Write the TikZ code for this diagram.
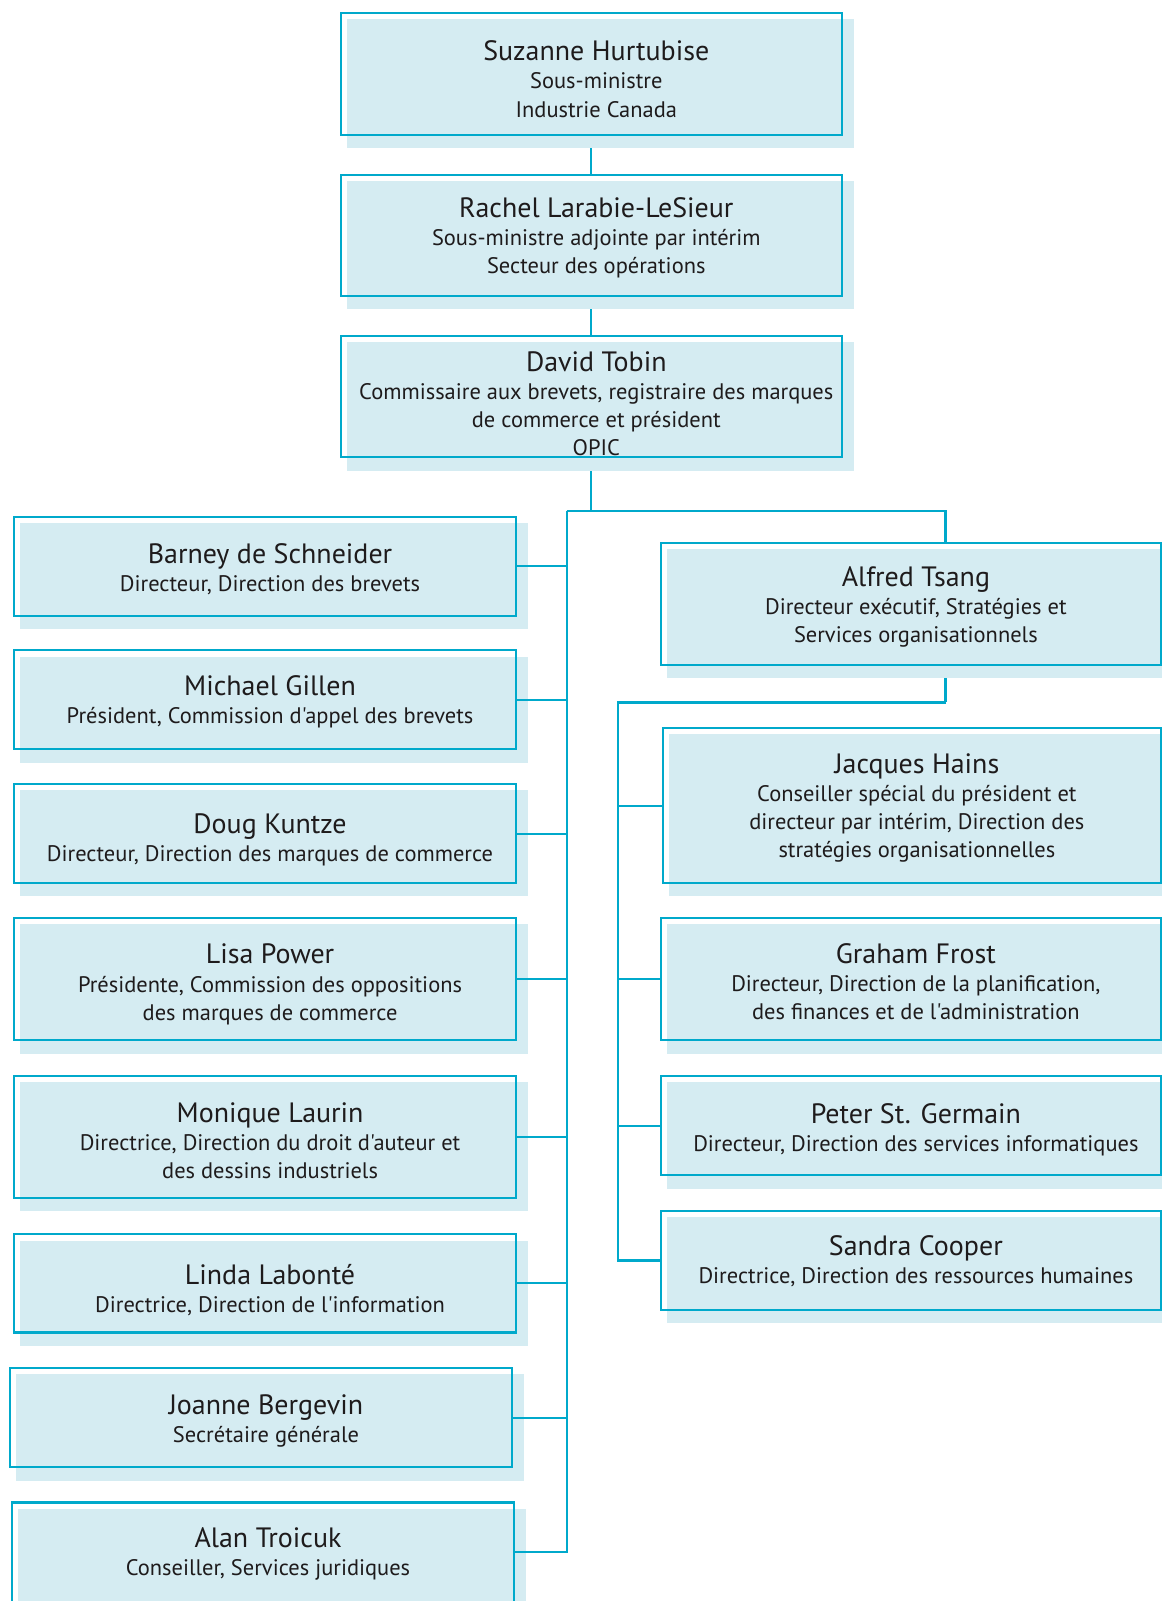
\documentclass[tikz,border=0pt]{standalone}
\usepackage{fontspec}
\setmainfont{PT Sans}[Ligatures=TeXOff]
\usetikzlibrary{calc,backgrounds}
\definecolor{bleuligne}{HTML}{00A9CB}
\definecolor{bleupale}{HTML}{D5ECF2}
\definecolor{encre}{HTML}{1E1B1C}
\def\ombre(#1){\fill[bleupale] ($(#1.north west)+(7,7)$) rectangle ($(#1.south east)+(11,12)$);}
\newcommand{\carte}[3][4pt]{\raisebox{-#1}[\height][\depth]{\hspace*{10pt}\begin{tabular}{@{}c@{}}{\fontsize{27.4}{30}\selectfont #2}\\#3\end{tabular}}}
\tikzset{
	poste/.style={draw=bleuligne, line width=2pt, text=encre, inner sep=0pt,
		minimum width=491pt, font=\fontsize{22}{27.5}\selectfont},
	lien/.style={draw=bleuligne, line width=2pt},
}

\begin{document}
\begin{tikzpicture}[x=1pt,y=-1pt]
			%%%%% START %%%%%
			
			\useasboundingbox (0,0) rectangle (1138,1568);
			\clip (0,0) rectangle (1138,1568);
			
			\node[poste, minimum height=119pt] (hurtubise) at (579,72.5) {\carte[9pt]{Suzanne Hurtubise}{Sous-ministre\\Industrie Canada}};
			\node[poste, minimum height=119pt] (larabie) at (579,230.5) {\carte{Rachel Larabie-LeSieur}{Sous-ministre adjointe par intérim\\Secteur des opérations}};
			\node[poste, minimum height=119pt] (tobin) at (579,388.5) {\carte[11pt]{David Tobin}{Commissaire aux brevets, registraire des marques\\de commerce et président\\OPIC}};
			
			\node[poste, minimum height=97pt] (schneider) at (259.5,554.5) {\carte[5.5pt]{Barney de Schneider}{Directeur, Direction des brevets}};
			\node[poste, minimum height=97pt] (gillen) at (259.5,685.5) {\carte{Michael Gillen}{Président, Commission d'appel des brevets}};
			\node[poste, minimum height=97pt] (kuntze) at (259.5,816.5) {\carte[7.5pt]{Doug Kuntze}{Directeur, Direction des marques de commerce}};
			\node[poste, minimum height=120pt] (power) at (259.5,959) {\carte[7pt]{Lisa Power}{Présidente, Commission des oppositions\\des marques de commerce}};
			\node[poste, minimum height=119pt] (laurin) at (259.5,1113.5) {\carte[8pt]{Monique Laurin}{Directrice, Direction du droit d'auteur et\\des dessins industriels}};
			\node[poste, minimum height=96pt] (labonte) at (259.5,1257) {\carte[9pt]{Linda Labonté}{Directrice, Direction de l'information}};
			\node[poste, minimum height=97pt] (bergevin) at (255.5,1388.5) {\carte[5pt]{Joanne Bergevin}{Secrétaire générale}};
			\node[poste, minimum height=97pt] (troicuk) at (257.5,1520) {\carte{Alan Troicuk}{Conseiller, Services juridiques}};
			
			\node[poste, minimum width=490pt, minimum height=119pt] (tsang) at (892,591.5) {\carte[5pt]{Alfred Tsang}{Directeur exécutif, Stratégies et\\Services organisationnels}};
			\node[poste, minimum width=488pt, minimum height=152pt] (hains) at (893,789) {\carte{Jacques Hains}{Conseiller spécial du président et\\directeur par intérim, Direction des\\stratégies organisationnelles}};
			\node[poste, minimum width=490pt, minimum height=120pt] (frost) at (892,959) {\carte[6.5pt]{Graham Frost}{Directeur, Direction de la planification,\\des finances et de l'administration}};
			\node[poste, minimum width=490pt, minimum height=97pt] (germain) at (892,1102.5) {\carte[5.5pt]{Peter St. Germain}{Directeur, Direction des services informatiques}};
			\node[poste, minimum width=490pt, minimum height=97pt] (cooper) at (892,1234.5) {\carte[3pt]{Sandra Cooper}{Directrice, Direction des ressources humaines}};
			
			\coordinate (fourche) at (579,500);
			\coordinate (tronc) at (555,500);
			\coordinate (branche) at (926,500);
			\coordinate (sous) at (605,688);
			
			\begin{scope}[on background layer]
				\draw[lien] (hurtubise.south) -- (larabie.north);
				\draw[lien] (larabie.south) -- (tobin.north);
				\draw[lien] (tobin.south) -- (fourche);
				\draw[lien] (branche |- tsang.south) -- (branche |- sous);
				\foreach \n in {hurtubise,larabie,tobin,schneider,gillen,kuntze,power,laurin,labonte,bergevin,troicuk,tsang,hains,frost,germain,cooper}
					{\ombre(\n)}
			\end{scope}
			
			\draw[lien] (tronc) -- (branche) -- (branche |- tsang.north);
			\draw[lien] (tronc) |- (troicuk.east);
			\foreach \n in {schneider,gillen,kuntze,power,laurin,labonte,bergevin}
				\draw[lien] (\n.east) -- (\n.east -| tronc);
			
			\draw[lien] (branche |- sous) -- (sous) |- (cooper.west);
			\foreach \n in {hains,frost,germain}
				\draw[lien] (\n.west) -- (\n.west -| sous);
			
			%%%%% END %%%%%
\end{tikzpicture}
\end{document}
